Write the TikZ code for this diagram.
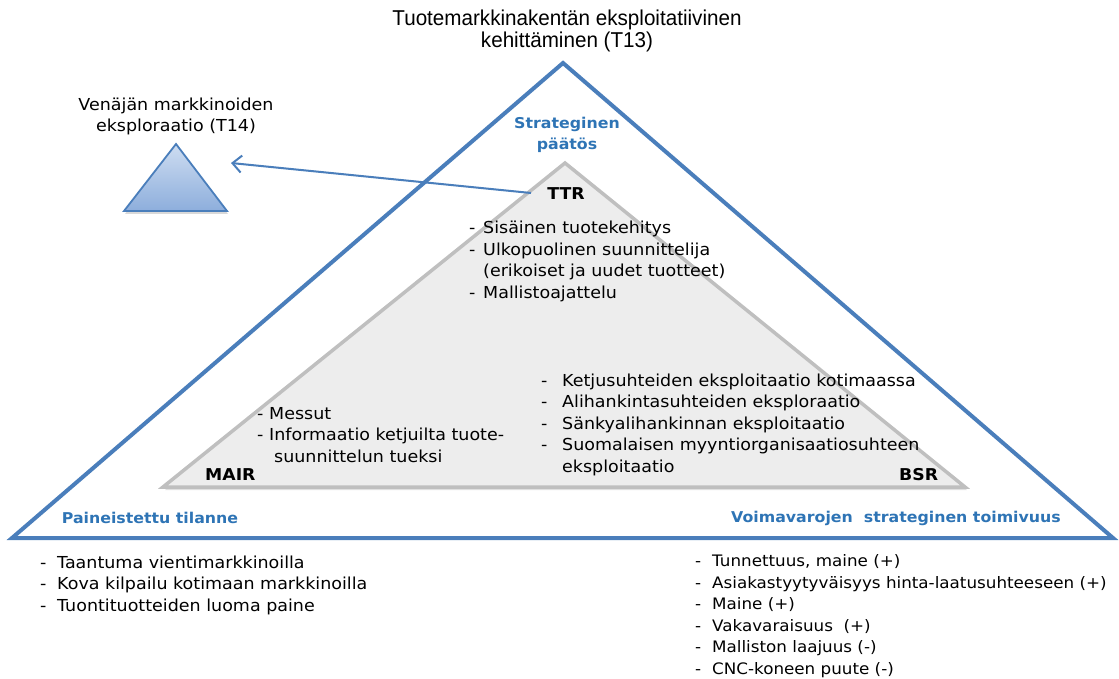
\documentclass[tikz,border=0pt]{standalone}
\usepackage{fontspec}
\setmainfont[FakeStretch=1.06]{DejaVu Sans}
\newfontfamily\titlefont[FakeStretch=0.96]{Liberation Sans}
\usetikzlibrary{arrows.meta}

\definecolor{frameblue}{HTML}{4A7EBB}
\definecolor{headblue}{HTML}{2E74B5}
\definecolor{corefill}{HTML}{EDEDED}
\definecolor{coreline}{HTML}{BFBFBF}
\definecolor{tritop}{HTML}{CEDDF1}
\definecolor{tribottom}{HTML}{8DAEDC}

% list entry: dash, then the text after a fixed gap
\newcommand\dashitem[2][17pt]{\makebox[#1][l]{-}#2}

% multi-line nodes are placed by the baseline of their last line
\tikzset{
  body/.style={inner sep=0pt, align=left, font=\fontsize{16.5}{21.5}\selectfont},
  heading/.style={inner sep=0pt, align=center, text=headblue,
    font=\bfseries\fontsize{14.9}{21}\selectfont},
  tag/.style={inner sep=0pt, font=\bfseries\fontsize{16.3}{20}\selectfont},
  goal/.style={inner sep=0pt, align=center, font=\titlefont\fontsize{21.5}{22}\selectfont},
  frame/.style={draw=frameblue, line width=4pt, line join=miter},
  core/.style={draw=coreline, fill=corefill, line width=3.5pt, line join=miter},
  link/.style={draw=frameblue, line width=2pt,
    -{Straight Barb[length=9pt,width=17pt,line width=2pt]}},
}

\begin{document}
\begin{tikzpicture}[x=1pt,y=-1pt]
\useasboundingbox (0,0) rectangle (1119,679);

% corner points of the three triangles
\coordinate (frameTop) at (563,63);
\coordinate (frameL) at (12,538);
\coordinate (frameR) at (1113,538);
\coordinate (coreTop) at (565,163);
\coordinate (coreL) at (163,487);
\coordinate (coreR) at (965,487);
\coordinate (smallTop) at (176,144);
\coordinate (smallL) at (124,211);
\coordinate (smallR) at (227,211);

% inner grey triangle with a soft shadow
\fill[black, opacity=0.12] ([shift={(2,3)}]coreTop) -- ([shift={(2,3)}]coreL) -- ([shift={(2,3)}]coreR) -- cycle;
\path[core] (coreTop) -- (coreL) -- (coreR) -- cycle;

% outer blue triangle
\path[frame] (frameTop) -- (frameL) -- (frameR) -- cycle;

% small shaded triangle on the left
\fill[black, opacity=0.15] ([shift={(1,3)}]smallTop) -- ([shift={(1,3)}]smallL) -- ([shift={(1,3)}]smallR) -- cycle;
\shade[top color=tritop, bottom color=tribottom] (smallTop) -- (smallL) -- (smallR) -- cycle;
\draw[frameblue, line width=1.8pt, line join=miter] (smallTop) -- (smallL) -- (smallR) -- cycle;

% top labels
\node[goal, anchor=base] (t13) at (567,48) {Tuotemarkkinakentän eksploitatiivinen\\kehittäminen (T13)};
\node[body, align=center, anchor=base] (t14) at (176,132) {Venäjän markkinoiden\\eksploraatio (T14)};
\node[heading, anchor=base] (decision) at (567,150) {Strateginen\\päätös};

% corner tags of the grey triangle
\node[tag, anchor=base] (ttr) at (566,200) {TTR};
\node[tag, anchor=base west] (mair) at (205,480) {MAIR};
\node[tag, anchor=base west] (bsr) at (899,480) {BSR};

% arrow from TTR to the small triangle
\coordinate (ttrLink) at (531,193);
\coordinate (t14Tip) at (231,163);
\path[link] (ttrLink) -- (t14Tip);

% lists inside the grey triangle
\node[body, anchor=base west] (ttrList) at (469,298) {%
  \dashitem[14pt]{Sisäinen tuotekehitys}\\
  \dashitem[14pt]{Ulkopuolinen suunnittelija}\\
  \hspace*{14pt}(erikoiset ja uudet tuotteet)\\
  \dashitem[14pt]{Mallistoajattelu}};

\node[body, anchor=base west] (mairList) at (257,462) {%
  \dashitem[12pt]{Messut}\\
  \dashitem[12pt]{Informaatio ketjuilta tuote-}\\
  \hspace*{17pt}suunnittelun tueksi};

\node[body, anchor=base west] (bsrList) at (541,472) {%
  \dashitem[21pt]{Ketjusuhteiden eksploitaatio kotimaassa}\\
  \dashitem[21pt]{Alihankintasuhteiden eksploraatio}\\
  \dashitem[21pt]{Sänkyalihankinnan eksploitaatio}\\
  \dashitem[21pt]{Suomalaisen myyntiorganisaatiosuhteen}\\
  \hspace*{21pt}eksploitaatio};

% base corner headings
\node[heading, anchor=base] (pressure) at (150,523) {Paineistettu tilanne};
\node[heading, anchor=base] (resources) at (896,522) {Voimavarojen\ \ strateginen toimivuus};

% lists below the base
\node[body, anchor=base west] (pressureList) at (40,611) {%
  \dashitem{Taantuma vientimarkkinoilla}\\
  \dashitem{Kova kilpailu kotimaan markkinoilla}\\
  \dashitem{Tuontituotteiden luoma paine}};

\node[body, anchor=base west, font=\fontsize{15.8}{21.5}\selectfont] (resourceList) at (695,674) {%
  \dashitem{Tunnettuus, maine (+)}\\
  \dashitem{Asiakastyytyväisyys hinta-laatusuhteeseen (+)}\\
  \dashitem{Maine (+)}\\
  \dashitem{Vakavaraisuus\ \ (+)}\\
  \dashitem{Malliston laajuus (-)}\\
  \dashitem{CNC-koneen puute (-)}};
\end{tikzpicture}
\end{document}
